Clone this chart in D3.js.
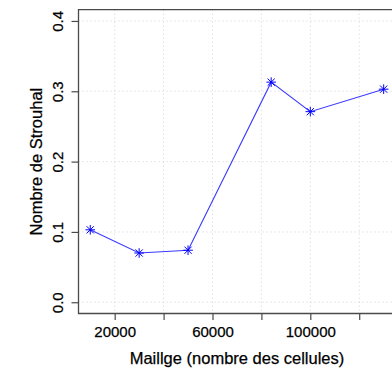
<!DOCTYPE html>
<html>
<head>
<meta charset="utf-8">
<script src="https://cdn.jsdelivr.net/npm/d3@7/dist/d3.min.js"></script>
<style>
  html, body { margin: 0; padding: 0; background: #fff; }
  svg { display: block; }
  text { font-family: "Liberation Sans", Arial, sans-serif; fill: #000; stroke: #000; stroke-width: 0.25px; }
</style>
</head>
<body>
<svg id="chart" width="392" height="369"></svg>
<script>
// Data
const mesh = [10000, 30000, 50000, 84000, 100000, 130000];
const strouhal = [0.103, 0.070, 0.074, 0.313, 0.271, 0.303];
const xTicks = [20000, 40000, 60000, 80000, 100000, 120000];
const xTickLabels = ["20000", "", "60000", "", "100000", ""];
const yTicks = [0.0, 0.1, 0.2, 0.3, 0.4];
const yTickLabels = ["0.0", "0.1", "0.2", "0.3", "0.4"];
const xTitle = "Maillge (nombre des cellules)";
const yTitle = "Nombre de Strouhal";

(function () {
const svg = d3.select("#chart");
const pLeft = 78.5, pRight = 395.4, pTop = 9.7, pBottom = 313.5;

const x = d3.scaleLinear().domain([5200, 134800]).range([pLeft, pRight]);
const y = d3.scaleLinear().domain([-0.016, 0.416]).range([pBottom, pTop]);

// Grid
const grid = svg.append("g");
grid.selectAll("line.v").data(xTicks).enter().append("line").attr("class", "v")
  .attr("x1", d => x(d)).attr("x2", d => x(d))
  .attr("y1", pTop).attr("y2", pBottom)
  .attr("stroke", "#d0d0d0").attr("stroke-width", 1).attr("stroke-dasharray", "1,3");
grid.selectAll("line.h").data(yTicks).enter().append("line").attr("class", "h")
  .attr("x1", pLeft).attr("x2", 392)
  .attr("y1", d => y(d)).attr("y2", d => y(d))
  .attr("stroke", "#d0d0d0").attr("stroke-width", 1).attr("stroke-dasharray", "1,3");

// Box (left, top, bottom visible)
const axisColor = "#4a4a4a";
svg.append("path")
  .attr("d", `M${pRight},${pTop}H${pLeft}V${pBottom}H${pRight}`)
  .attr("fill", "none").attr("stroke", axisColor).attr("stroke-width", 1.3);

// X axis
const xAxis = d3.axisBottom(x).tickValues(xTicks)
  .tickFormat((d, i) => xTickLabels[i]).tickSize(6.5).tickPadding(5);
const gx = svg.append("g").attr("transform", `translate(0,${pBottom})`).call(xAxis);
gx.select(".domain").remove();
gx.selectAll(".tick line").attr("stroke", axisColor).attr("stroke-width", 1.2);
gx.selectAll(".tick text").attr("font-size", "15px")
  .attr("font-family", "Liberation Sans, Arial, sans-serif").attr("fill", "#000")
  .attr("dy", null).attr("y", 23.2);

// Y axis
const yAxis = d3.axisLeft(y).tickValues(yTicks)
  .tickFormat((d, i) => yTickLabels[i]).tickSize(7);
const gy = svg.append("g").attr("transform", `translate(${pLeft},0)`).call(yAxis);
gy.select(".domain").remove();
gy.selectAll(".tick line").attr("stroke", axisColor).attr("stroke-width", 1.2);
gy.selectAll(".tick text").attr("font-size", "15px")
  .attr("font-family", "Liberation Sans, Arial, sans-serif").attr("fill", "#000")
  .attr("x", null).attr("dy", null)
  .attr("text-anchor", "middle")
  .attr("transform", `translate(${62.7 - pLeft},0) rotate(-90)`);

// Titles
svg.append("text").attr("x", 237).attr("y", 364)
  .attr("text-anchor", "middle").attr("font-size", "16.5px").text(xTitle);
svg.append("text")
  .attr("transform", `translate(42.3,${(pTop + pBottom) / 2}) rotate(-90)`)
  .attr("text-anchor", "middle").attr("font-size", "16.5px").text(yTitle);

// Line
const pts = mesh.map((m, i) => [m, strouhal[i]]);
svg.append("path").datum(pts)
  .attr("d", d3.line().x(d => x(d[0])).y(d => y(d[1])))
  .attr("fill", "none").attr("stroke", "#3a3aff").attr("stroke-width", 1.1);

// Asterisk markers
const r = 4.8, rd = 3.6;
const marks = svg.append("g").attr("stroke", "#0000ff").attr("stroke-width", 1);
marks.selectAll("path").data(pts).enter().append("path")
  .attr("d", d => {
    const cx = x(d[0]), cy = y(d[1]);
    return `M${cx - r},${cy}H${cx + r}M${cx},${cy - r}V${cy + r}` +
      `M${cx - rd},${cy - rd}L${cx + rd},${cy + rd}M${cx - rd},${cy + rd}L${cx + rd},${cy - rd}`;
  });
})();
</script>
</body>
</html>
